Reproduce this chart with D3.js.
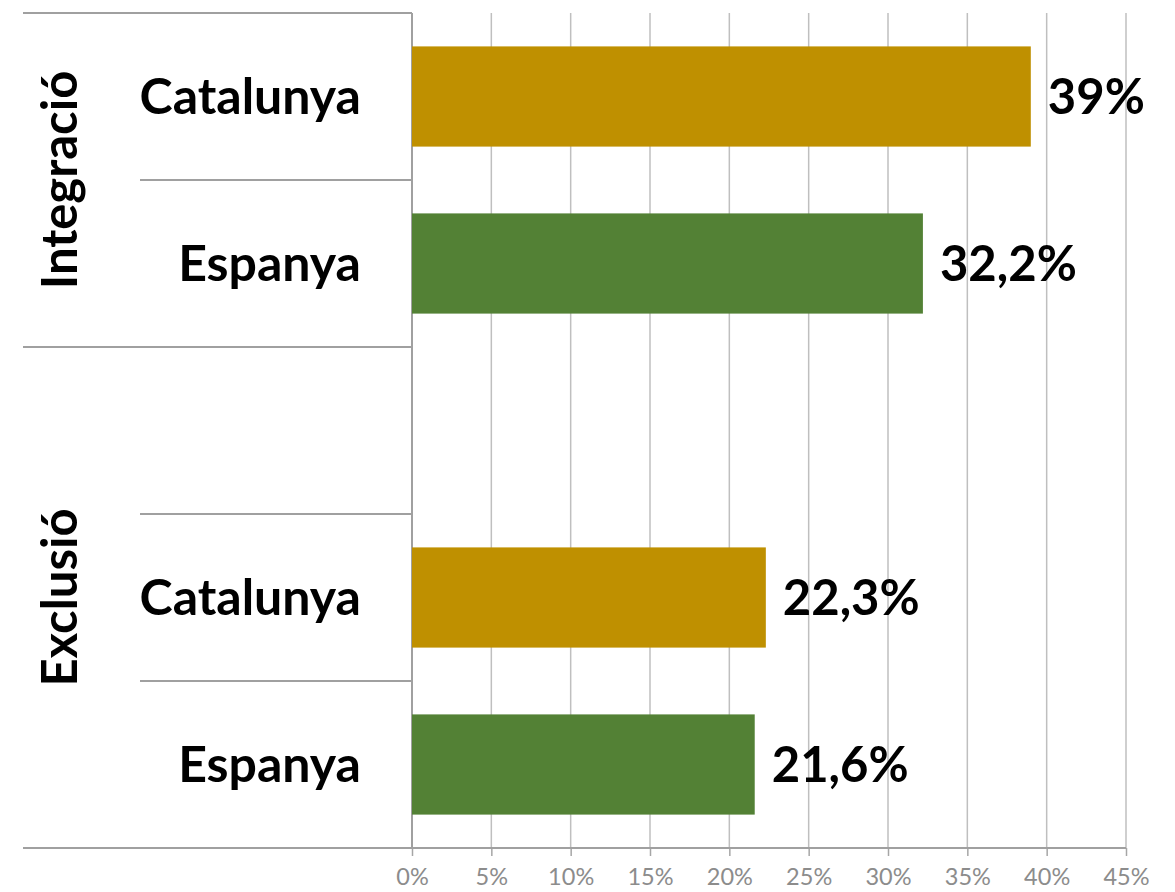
<!DOCTYPE html>
<html>
<head>
<meta charset="utf-8">
<script src="https://cdn.jsdelivr.net/npm/d3@7"></script>
<style>
  body { margin: 0; background: #fff; }
  svg text { font-family: Lato, "Open Sans", sans-serif; }
</style>
</head>
<body>
<svg id="chart" width="1175" height="892"></svg>
<script>
// chart data
var groups = ["Integració", "Exclusió"];
var regions = ["Catalunya", "Espanya"];
var catalunya = [39, 22.3];
var espanya = [32.2, 21.6];
var xTicks = [0, 5, 10, 15, 20, 25, 30, 35, 40, 45];
var colors = ["#bf9000", "#538135"];

var svg = d3.select("#chart");
var plotLeft = 412, plotRight = 1126, plotTop = 13, plotBottom = 848;

// rows: group 1 (2 rows), empty row, group 2 (2 rows) - like the excel sheet
var rows = [];
groups.forEach(function(g, gi){
    if (gi > 0) rows.push({key: "blank" + gi, group: g, blank: true});
    regions.forEach(function(r, ri){
        var v = ri == 0 ? catalunya[gi] : espanya[gi];
        rows.push({key: g + "-" + r, group: g, region: r, value: v, color: colors[ri]});
    });
});

var x = d3.scaleLinear().domain([0, 45]).range([plotLeft, plotRight]);
var y = d3.scaleBand()
    .domain(rows.map(function(d){ return d.key; }))
    .range([plotTop, plotBottom])
    .paddingInner(0.4)
    .paddingOuter(0.2);
var step = y.step();
function rowTop(k){ return y(k) - y.paddingOuter() * step; }

// grid lines
svg.append("g").selectAll("line")
    .data(xTicks.slice(1))
    .enter().append("line")
    .attr("x1", function(d){ return x(d); })
    .attr("x2", function(d){ return x(d); })
    .attr("y1", plotTop)
    .attr("y2", plotBottom)
    .style("stroke", "#bfbfbf")
    .style("stroke-width", 1.5);

// x axis
var xAxis = svg.append("g")
    .attr("transform", "translate(0," + plotBottom + ")")
    .call(d3.axisBottom(x).tickValues(xTicks).tickSize(8).tickPadding(12)
        .tickFormat(function(d){ return d + "%"; }));
xAxis.select(".domain").remove();
xAxis.selectAll(".tick line").style("stroke", "#a6a6a6").style("stroke-width", 1.5);
xAxis.selectAll(".tick text")
    .style("font-size", "23.5px")
    .style("fill", "#8c8c8c")
    .style("font-family", "Lato, sans-serif");

// category axis lines (multi level)
var lines = [];
rows.forEach(function(d, i){
    var isGroupStart = i == 0 || rows[i-1].group != d.group;
    lines.push({y: rowTop(d.key), x1: isGroupStart ? 23 : 140});
});
lines.push({y: plotBottom, x1: 23});
svg.append("g").selectAll("line")
    .data(lines)
    .enter().append("line")
    .attr("x1", function(d){ return d.x1; })
    .attr("x2", function(d, i){ return i == lines.length - 1 ? plotRight : plotLeft; })
    .attr("y1", function(d){ return d.y; })
    .attr("y2", function(d){ return d.y; })
    .style("stroke", "#a0a0a0")
    .style("stroke-width", 2);

svg.append("line")
    .attr("x1", plotLeft).attr("x2", plotLeft)
    .attr("y1", plotTop).attr("y2", plotBottom)
    .style("stroke", "#a0a0a0")
    .style("stroke-width", 2);

var dataRows = rows.filter(function(d){ return !d.blank; });

// bars
svg.append("g").selectAll("rect")
    .data(dataRows)
    .enter().append("rect")
    .attr("x", plotLeft)
    .attr("y", function(d){ return y(d.key); })
    .attr("width", function(d){ return x(d.value) - plotLeft; })
    .attr("height", y.bandwidth())
    .style("fill", function(d){ return d.color; });

// value labels
svg.append("g").selectAll("text")
    .data(dataRows)
    .enter().append("text")
    .attr("x", function(d){ return x(d.value) + 17; })
    .attr("y", function(d){ return y(d.key) + y.bandwidth() / 2 + 17; })
    .style("font-size", "49px")
    .style("font-weight", "bold")
    .text(function(d){ return String(d.value).replace(".", ",") + "%"; });

// region labels
svg.append("g").selectAll("text")
    .data(dataRows)
    .enter().append("text")
    .attr("x", 361)
    .attr("y", function(d){ return y(d.key) + y.bandwidth() / 2 + 17; })
    .attr("text-anchor", "end")
    .style("font-size", "50px")
    .style("font-weight", "bold")
    .text(function(d){ return d.region; });

// group labels
svg.append("g").selectAll("text")
    .data(groups)
    .enter().append("text")
    .attr("transform", function(g){
        var gr = rows.filter(function(d){ return d.group == g; });
        var y0 = rowTop(gr[0].key), y1 = rowTop(gr[gr.length-1].key) + step;
        return "translate(77," + ((y0 + y1) / 2) + ") rotate(-90)";
    })
    .attr("text-anchor", "middle")
    .style("font-size", "49px")
    .style("font-weight", "bold")
    .text(function(d){ return d; });
</script>
</body>
</html>
